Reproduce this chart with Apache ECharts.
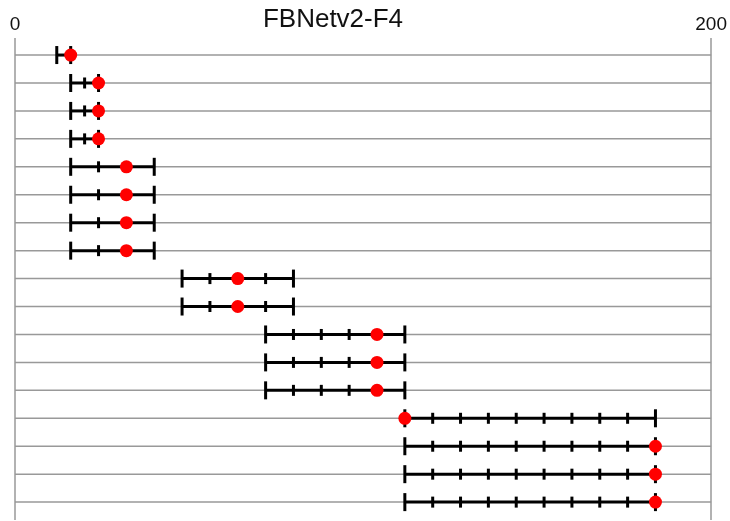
<!DOCTYPE html>
<html>
<head>
<meta charset="utf-8">
<script src="https://cdn.jsdelivr.net/npm/echarts@6/dist/echarts.min.js"></script>
<style>html,body{margin:0;padding:0;background:#fff}#c{width:730px;height:521px}</style>
</head>
<body>
<div id="c"></div>
<script>
// Search-space rows (top to bottom)
const rowStart = [12, 16, 16, 16, 16, 16, 16, 16, 48, 48, 72, 72, 72, 112, 112, 112, 112];
const rowEnd   = [16, 24, 24, 24, 40, 40, 40, 40, 80, 80, 112, 112, 112, 184, 184, 184, 184];
const rowStep  = [4, 4, 4, 4, 8, 8, 8, 8, 8, 8, 8, 8, 8, 8, 8, 8, 8];
const chosen   = [16, 24, 24, 24, 32, 32, 32, 32, 64, 64, 104, 104, 104, 112, 184, 184, 184];
const xTicks = [0, 200];
const titleText = 'FBNetv2-F4';

const rows = rowStart.map((s, i) => [i, s, rowEnd[i], rowStep[i]]);
const dots = chosen.map((v, i) => [v, i]);

const chart = echarts.init(document.getElementById('c'), null, {renderer: 'canvas'});
const FONT = 'Liberation Sans';
chart.setOption({
  animation: false,
  title: {
    text: titleText, left: 328, top: 2, textAlign: 'center',
    textStyle: {fontFamily: FONT, fontSize: 26, fontWeight: 'normal', color: '#111'}
  },
  grid: {left: 15, right: 15, top: 38, bottom: 1},
  xAxis: {
    type: 'value', position: 'top', min: xTicks[0], max: xTicks[1], interval: 200,
    axisLine: {show: false}, axisTick: {show: false},
    axisLabel: {fontFamily: FONT, fontSize: 19, color: '#111', margin: 4},
    splitLine: {show: true, lineStyle: {color: '#999', width: 1.5}}
  },
  yAxis: {
    type: 'value', inverse: true, min: -0.61, max: 16.64, show: false,
    splitLine: {show: false}
  },
  series: [
    {
      type: 'custom',
      data: rows,
      encode: {x: [1, 2], y: 0},
      renderItem: function (params, api) {
        const r = api.value(0), s = api.value(1), e = api.value(2), st = api.value(3);
        const y = api.coord([0, r])[1];
        const x0 = api.coord([0, r])[0], x200 = api.coord([200, r])[0];
        const xs = api.coord([s, r])[0], xe = api.coord([e, r])[0];
        const children = [
          {type: 'line', shape: {x1: x0, y1: y, x2: x200, y2: y}, style: {stroke: '#999', lineWidth: 1.5}},
          {type: 'line', shape: {x1: xs, y1: y, x2: xe, y2: y}, style: {stroke: '#000', lineWidth: 3}}
        ];
        for (let v = s; v <= e + 1e-9; v += st) {
          const xv = api.coord([v, r])[0];
          const h = (v === s || v === e) ? 9 : 5.5;
          children.push({type: 'line', shape: {x1: xv, y1: y - h, x2: xv, y2: y + h}, style: {stroke: '#000', lineWidth: 3}});
        }
        return {type: 'group', children: children};
      },
      z: 2
    },
    {
      type: 'scatter', data: dots, symbol: 'circle', symbolSize: 13,
      itemStyle: {color: '#f00', opacity: 1}, z: 5
    }
  ]
});
</script>
</body>
</html>
